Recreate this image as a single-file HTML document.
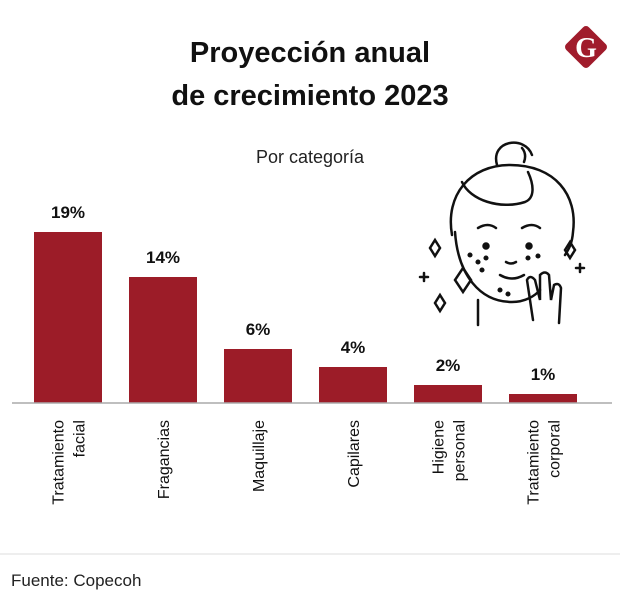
<!DOCTYPE html>
<html><head><meta charset="utf-8"><style>
body{margin:0;background:#fff;width:620px;height:616px;overflow:hidden;font-family:"Liberation Sans",sans-serif}
svg{display:block}
</style></head><body>
<svg width="620" height="616" viewBox="0 0 620 616">
<text x="310" y="62" text-anchor="middle" font-size="29" font-weight="bold" fill="#111">Proyección anual</text>
<text x="310" y="105" text-anchor="middle" font-size="29" font-weight="bold" fill="#111">de crecimiento 2023</text>
<text x="310" y="163" text-anchor="middle" font-size="18" fill="#222">Por categoría</text>
<g>
<rect x="570" y="31" width="32" height="32" rx="4" fill="#a01c2c" transform="rotate(45 586 47)"/>
<text x="586" y="57" text-anchor="middle" font-size="28" font-weight="bold" font-family="Liberation Serif,serif" fill="#fff">G</text>
</g>
<g fill="none" stroke="#111" stroke-width="2.5" stroke-linecap="round">
<path d="M497 165 C490 140 525 135 532 155 M522 148 q5 6 2 14"/>
<path d="M452 235 C445 195 470 165 510 165 C555 165 578 195 573 232 C572 245 568 250 565 255"/>
<path d="M462 182 C470 200 500 210 525 202 C535 198 534 185 528 172"/>
<path d="M455 232 C458 275 480 302 512 302 C525 302 535 296 540 290"/>
<path d="M478 228 q10 -6 18 0 M522 228 q10 -6 18 0"/>
<circle cx="486" cy="246" r="2.5" fill="#111"/><circle cx="529" cy="246" r="2.5" fill="#111"/>
<path d="M500 275 q12 7 24 0 M506 262 q5 3 10 0"/>
<path d="M533 320 l-6 -40 q3 -6 8 0 l5 20 l0 -25 q5 -5 9 0 l2 25 l3 -15 q5 -3 7 3 l-2 35"/>
<path d="M478 300 l0 25"/>
<circle cx="470" cy="255" r="1.3" fill="#111"/><circle cx="478" cy="262" r="1.3" fill="#111"/><circle cx="486" cy="258" r="1.3" fill="#111"/><circle cx="482" cy="270" r="1.3" fill="#111"/>
<circle cx="528" cy="258" r="1.3" fill="#111"/><circle cx="538" cy="256" r="1.3" fill="#111"/><circle cx="500" cy="290" r="1.3" fill="#111"/><circle cx="508" cy="294" r="1.3" fill="#111"/>
<path d="M435 240 l5 8 l-5 8 l-5 -8z M570 242 l5 8 l-5 8 l-5 -8z M440 295 l5 8 l-5 8 l-5 -8z M463 268 l8 12 l-8 12 l-8 -12z"/>
<path d="M420 277 h8 M424 273 v8 M576 268 h8 M580 264 v8"/>
</g>
<g id="bars"></g>
<line x1="12" y1="403" x2="612" y2="403" stroke="#aaa" stroke-width="1.5"/>
<line x1="0" y1="554" x2="620" y2="554" stroke="#ddd" stroke-width="1"/>
<text x="11" y="586" font-size="17" fill="#222">Fuente: Copecoh</text>
</svg>
<script>
const categories=[["Tratamiento","facial"],["Fragancias"],["Maquillaje"],["Capilares"],["Higiene","personal"],["Tratamiento","corporal"]];
const values=[19,14,6,4,2,1];
const valueLabels=["19%","14%","6%","4%","2%","1%"];
const NS="http://www.w3.org/2000/svg";
const g=document.getElementById("bars");
const y=v=>403-v*9;
const x=i=>34+i*95;
values.forEach((v,i)=>{
 const r=document.createElementNS(NS,"rect");
 r.setAttribute("x",x(i));r.setAttribute("y",y(v));r.setAttribute("width",68);r.setAttribute("height",403-y(v));r.setAttribute("fill","#9c1c28");
 
 
 g.appendChild(r);
 const t=document.createElementNS(NS,"text");
 t.setAttribute("x",x(i)+34);t.setAttribute("y",y(v)-14);t.setAttribute("text-anchor","middle");t.setAttribute("font-size","17");t.setAttribute("font-weight","bold");t.setAttribute("fill","#111");
 t.textContent=valueLabels[i];
 
 
 g.appendChild(t);
 const lines=categories[i];
 const cx=x(i)+34;
 lines.forEach((ln,j)=>{
  const off=(j-(lines.length-1)/2)*21+6;
  const lt=document.createElementNS(NS,"text");
  lt.setAttribute("transform",`translate(${cx+off},420) rotate(-90)`);
  lt.setAttribute("text-anchor","end");
  lt.setAttribute("font-size","16");lt.setAttribute("fill","#111");
  lt.textContent=ln;
  
  
  g.appendChild(lt);
 });
});
</script>
</body></html>
